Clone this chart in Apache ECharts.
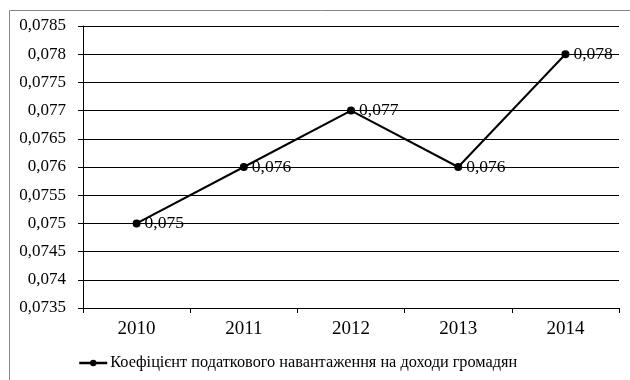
<!DOCTYPE html>
<html><head><meta charset="utf-8">
<script src="https://cdn.jsdelivr.net/npm/echarts@6/dist/echarts.min.js"></script>
<style>html,body{margin:0;padding:0;background:#fff}#c{width:630px;height:380px}</style>
</head><body><div id="c"></div>
<script>
const categories = ['2010','2011','2012','2013','2014'];
const values = [0.075, 0.076, 0.077, 0.076, 0.078];
const seriesName = 'Коефіцієнт податкового навантаження на доходи громадян';
const yMin = 0.0735, yMax = 0.0785, yStep = 0.0005;

const font = "'Liberation Serif','Times New Roman',serif";
const fmt = v => String(+v.toFixed(4)).replace('.', ',');
const chart = echarts.init(document.getElementById('c'));
chart.setOption({
  animation: false,
  backgroundColor: '#fff',
  textStyle: { fontFamily: font },
  graphic: [{ type: 'rect', shape: { x: 9.5, y: 10.5, width: 700, height: 500 }, style: { fill: 'none', stroke: '#888', lineWidth: 1 }, z: 100 }],
  grid: { left: 83, right: 11, top: 26, bottom: 72, containLabel: false },
  legend: {
    left: 73, top: 350, itemWidth: 28, itemHeight: 8, itemGap: 5,
    lineStyle: { width: 2.5 },
    textStyle: { fontFamily: font, fontSize: 16.3, color: '#000', padding: [0, 0, 0, -2] },
    data: [{ name: seriesName }]
  },
  xAxis: {
    type: 'category', data: categories, boundaryGap: true,
    axisLine: { lineStyle: { color: '#000', width: 1 } },
    axisTick: { show: true, length: 5, inside: false, lineStyle: { color: '#000' }, alignWithLabel: false },
    axisLabel: { color: '#000', fontFamily: font, fontSize: 19, margin: 12 }
  },
  yAxis: {
    type: 'value', min: yMin, max: yMax, interval: yStep,
    axisLine: { show: true, lineStyle: { color: '#000', width: 1 } },
    axisTick: { show: true, length: 5, lineStyle: { color: '#000' } },
    splitLine: { show: true, lineStyle: { color: '#000', width: 1 } },
    axisLabel: { color: '#000', fontFamily: font, fontSize: 17, margin: 17, formatter: fmt }
  },
  series: [{
    name: seriesName, type: 'line', data: values,
    symbol: 'circle', symbolSize: 8,
    lineStyle: { color: '#000', width: 2 },
    itemStyle: { color: '#000' },
    label: { show: true, position: 'right', distance: 4, color: '#000', fontFamily: font, fontSize: 17.5, formatter: p => fmt(p.value) }
  }]
});
</script></body></html>
